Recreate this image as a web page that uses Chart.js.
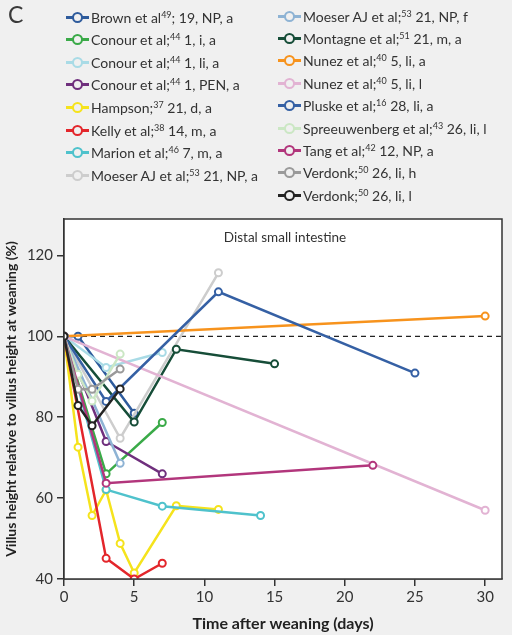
<!DOCTYPE html>
<html>
<head>
<meta charset="utf-8">
<script src="https://cdn.jsdelivr.net/npm/chart.js@4.4.1/dist/chart.umd.min.js"></script>
<style>
  html, body { margin: 0; padding: 0; background: #f0f0f0; }
  #wrap { position: relative; width: 512px; height: 635px; overflow: hidden; font-family: Lato, "Open Sans", sans-serif; color: #333; }
  #panel { position: absolute; left: 8px; top: 0px; font-size: 23px; color: #3a3a3a; }
  .row { position: absolute; height: 18px; display: flex; align-items: center; font-size: 14px; white-space: nowrap; }
  .mk { position: relative; width: 23px; height: 14px; margin-right: 2px; flex: none; }
  .mk .ln { position: absolute; left: 0; right: 0; top: 5.5px; height: 3px; }
  .mk .dot { position: absolute; left: 6px; top: 1.5px; width: 7px; height: 7px; border-radius: 50%; border: 2.5px solid; background: #f0f0f0; }
  sup { font-size: 9px; vertical-align: 5px; line-height: 0; }
  canvas { position: absolute; left: 0; top: 0; }
</style>
</head>
<body>
<div id="wrap">
  <canvas id="lineChart" width="512" height="635"></canvas>
  <div id="panel">C</div>
  <div id="legend"></div>
</div>
<script>
// legend text: name, reference number (superscript), details
const names = ['Brown et al', 'Conour et al;', 'Conour et al;', 'Conour et al;', 'Hampson;', 'Kelly et al;',
  'Marion et al;', 'Moeser AJ et al;', 'Moeser AJ et al;', 'Montagne et al;', 'Nunez et al;', 'Nunez et al;',
  'Pluske et al;', 'Spreeuwenberg et al;', 'Tang et al;', 'Verdonk;', 'Verdonk;'];
const refs = ['49', '44', '44', '44', '37', '38', '46', '53', '53', '51', '40', '40', '16', '43', '42', '50', '50'];
const details = ['; 19, NP, a', ' 1, i, a', ' 1, li, a', ' 1, PEN, a', ' 21, d, a', ' 14, m, a', ' 7, m, a',
  ' 21, NP, a', ' 21, NP, f', ' 21, m, a', ' 5, li, a', ' 5, li, l', ' 28, li, a', ' 26, li, l', ' 12, NP, a',
  ' 26, li, h', ' 26, li, l'];
const colors = ['#2e5b9c', '#3aaa48', '#a9dbe6', '#6f2f7d', '#f5e31c', '#e3262b', '#4fc2cc', '#cdcdcd',
  '#8eb3d4', '#164d38', '#f7931d', '#e2b3d3', '#3560a4', '#cbe7c4', '#b2367c', '#9a9a9a', '#232323'];

// days after weaning and villus height (% of weaning)
const brownDays = [0, 1, 5];                 const brownVals = [100, 100, 81];
const conourIDays = [0, 3, 7];               const conourIVals = [100, 66, 78.7];
const conourLiDays = [0, 3, 7];              const conourLiVals = [100, 92.3, 96];
const conourPenDays = [0, 3, 7];             const conourPenVals = [100, 74, 66];
const hampsonDays = [0, 1, 2, 3, 4, 5, 8, 11]; const hampsonVals = [100, 72.6, 55.7, 62, 48.8, 41.5, 58.1, 57.2];
const kellyDays = [0, 3, 5, 7];              const kellyVals = [100, 45.1, 40, 43.9];
const marionDays = [0, 3, 7, 14];            const marionVals = [100, 62.1, 58, 55.7];
const moeserADays = [0, 4, 11];              const moeserAVals = [100, 74.8, 115.7];
const moeserFDays = [0, 4];                  const moeserFVals = [100, 68.6];
const montagneDays = [0, 5, 8, 15];          const montagneVals = [100, 78.8, 96.8, 93.2];
const nunezADays = [0, 30];                  const nunezAVals = [100, 105];
const nunezLDays = [0, 30];                  const nunezLVals = [100, 57];
const pluskeDays = [0, 3, 11, 25];           const pluskeVals = [100, 83.9, 111, 90.9];
const spreeDays = [0, 1, 2, 4];              const spreeVals = [100, 90.6, 84, 95.6];
const tangDays = [0, 3, 22];                 const tangVals = [100, 63.7, 68.1];
const verdonkHDays = [0, 1, 2, 4];           const verdonkHVals = [100, 86.9, 86.9, 91.9];
const verdonkLDays = [0, 1, 2, 4];           const verdonkLVals = [100, 82.9, 77.9, 87];

const allDays = [brownDays, conourIDays, conourLiDays, conourPenDays, hampsonDays, kellyDays, marionDays,
  moeserADays, moeserFDays, montagneDays, nunezADays, nunezLDays, pluskeDays, spreeDays, tangDays,
  verdonkHDays, verdonkLDays];
const allVals = [brownVals, conourIVals, conourLiVals, conourPenVals, hampsonVals, kellyVals, marionVals,
  moeserAVals, moeserFVals, montagneVals, nunezAVals, nunezLVals, pluskeVals, spreeVals, tangVals,
  verdonkHVals, verdonkLVals];

const yTicks = [40, 60, 80, 100, 120];
const xTicks = [0, 5, 10, 15, 20, 25, 30];
const baseline = 100;

// html legend in two columns
const legend = document.getElementById('legend');
names.forEach((n, i) => {
  const col = i < 8 ? 0 : 1;
  const r = col ? i - 8 : i;
  const row = document.createElement('div');
  row.className = 'row';
  row.style.left = (col ? 278 : 66) + 'px';
  row.style.top = (col ? 7 + r * 22.4 : 8 + r * 22.6) + 'px';
  row.innerHTML = '<span class="mk"><i class="ln" style="background:' + colors[i] + '"></i>' +
    '<i class="dot" style="border-color:' + colors[i] + '"></i></span>' +
    '<span>' + n + '<sup>' + refs[i] + '</sup>' + details[i] + '</span>';
  legend.appendChild(row);
});

const datasets = names.map((n, i) => ({
  label: n + refs[i] + details[i],
  data: allDays[i].map((d, k) => ({ x: d, y: allVals[i][k] })),
  borderColor: colors[i],
  backgroundColor: '#ffffff',
  pointBorderColor: colors[i],
  pointBackgroundColor: '#ffffff',
  borderWidth: 2.5,
  pointRadius: 3.5,
  pointBorderWidth: 2,
  order: names.length - i
}));
datasets.push({
  label: 'weaning',
  data: [{ x: 0, y: baseline }, { x: 31.2, y: baseline }],
  borderColor: '#222',
  borderWidth: 1.2,
  borderDash: [5, 4],
  pointRadius: 0,
  order: 100
});

const framePlugin = {
  id: 'frame',
  beforeDatasetsDraw(chart) {
    const a = chart.chartArea, c = chart.ctx;
    c.save();
    c.fillStyle = '#fff';
    c.fillRect(a.left, a.top, a.right - a.left, a.bottom - a.top);
    c.restore();
  },
  afterDraw(chart) {
    const a = chart.chartArea, c = chart.ctx;
    c.save();
    c.strokeStyle = '#333';
    c.lineWidth = 1.5;
    c.strokeRect(a.left, a.top, a.right - a.left, a.bottom - a.top);
    c.fillStyle = '#333';
    c.font = '13.5px Lato';
    c.textAlign = 'center';
    c.textBaseline = 'middle';
    c.fillText('Distal small intestine', 285, a.top + 19);
    c.restore();
  }
};

const ctx = document.getElementById('lineChart').getContext('2d');
var myChart = new Chart(ctx, {
  type: 'line',
  data: { datasets: datasets },
  options: {
    responsive: false,
    animation: false,
    layout: { padding: { top: 219, right: 10, left: 0, bottom: 0 } },
    plugins: { legend: { display: false }, tooltip: { enabled: false } },
    scales: {
      x: {
        type: 'linear', min: 0, max: 31.2,
        afterBuildTicks: s => { s.ticks = xTicks.map(v => ({ value: v })); },
        afterFit: s => { s.height = 56; },
        grid: { drawOnChartArea: false, drawTicks: true, tickLength: 7, color: '#333', lineWidth: 1.5 },
        border: { color: '#333', width: 1.5 },
        ticks: { color: '#333', font: { family: 'Lato', size: 15 }, padding: 2, maxRotation: 0 },
        title: { display: true, text: 'Time after weaning (days)', color: '#222',
          font: { family: 'Lato', size: 16, weight: 'bold' }, padding: { top: 0, bottom: 2 } }
      },
      y: {
        min: 40, max: 129,
        afterBuildTicks: s => { s.ticks = yTicks.map(v => ({ value: v })); },
        afterFit: s => { s.width = 64; },
        grid: { drawOnChartArea: false, drawTicks: true, tickLength: 7, color: '#333', lineWidth: 1.5 },
        border: { color: '#333', width: 1.5 },
        ticks: { color: '#333', font: { family: 'Lato', size: 15 }, padding: 4 },
        title: { display: true, text: 'Villus height relative to villus height at weaning (%)', color: '#222',
          font: { family: 'Lato', size: 14, weight: 'bold' }, padding: { top: 3, bottom: 0 } }
      }
    }
  },
  plugins: [framePlugin]
});
</script>
</body>
</html>
